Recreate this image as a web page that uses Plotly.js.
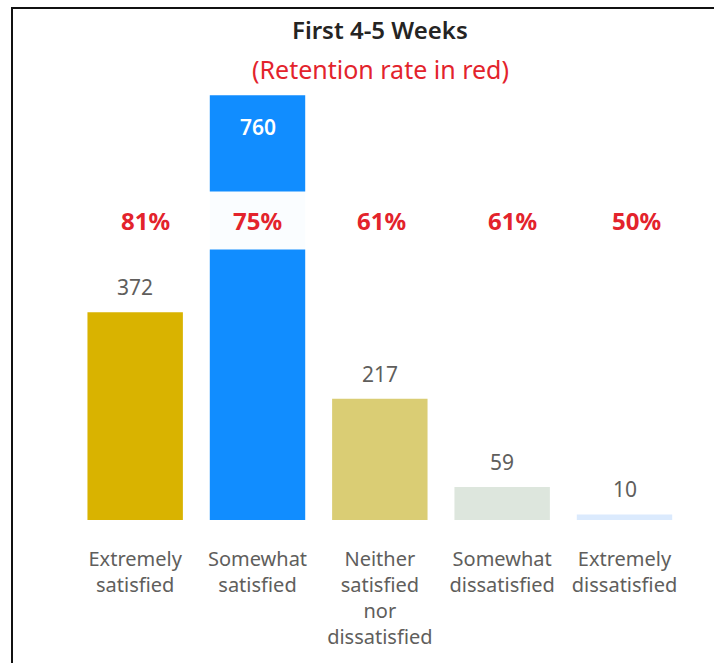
<!DOCTYPE html>
<html>
<head>
<meta charset="utf-8">
<script src="https://cdn.plot.ly/plotly-3.0.1.min.js"></script>
<style>
  body { margin: 0; background: #fff; }
  #frame { position: absolute; left: 11px; top: 7px; width: 720px; height: 680px;
           border-left: 2px solid #111; border-top: 2px solid #111; }
  #chart { position: absolute; left: 0; top: 0; width: 714px; height: 663px; }
</style>
</head>
<body>
<div id="chart"></div>
<div id="frame"></div>
<script>
const categories = ['Extremely<br>satisfied', 'Somewhat<br>satisfied', 'Neither<br>satisfied<br>nor<br>dissatisfied', 'Somewhat<br>dissatisfied', 'Extremely<br>dissatisfied'];
const responses = [372, 760, 217, 59, 10];
const retention = ['81%', '75%', '61%', '61%', '50%'];
const barColors = ['#d9b300', '#118dff', '#dacd74', '#dde6dd', '#dbeafd'];

const font = '"Noto Sans", "Open Sans", sans-serif';
const red = '#e3232c';

const plot = () => {
    let data = [{
        x: categories,
        y: responses,
        type: 'bar',
        marker: {color: barColors},
        hoverinfo: 'x+y'
    }];

    // value labels: inside the bar when it reaches the top, otherwise above
    let valueNotes = responses.map((v, i) => {
        let inside = v > 700;
        return {
            x: categories[i], y: v, xref: 'x', yref: 'y',
            text: String(v), showarrow: false,
            yanchor: inside ? 'top' : 'bottom',
            yshift: inside ? -16 : 9,
            font: {family: font, size: 21, color: inside ? '#ffffff' : '#605e5c', weight: inside ? 600 : 400}
        };
    });

    let rateNotes = retention.map((r, i) => ({
        x: categories[i], y: 0.671, xref: 'x', yref: 'paper', yanchor: 'middle',
        text: '<b>' + r + '</b>', showarrow: false,
        xshift: [10, 0, 2, 10, 12][i],
        width: 95, height: 55, bgcolor: 'rgba(255,255,255,0.98)',
        font: {family: font, size: 24, color: red}
    }));

    let titleNotes = [
        {text: 'First 4-5 Weeks', y: 1.098, font: {family: font, size: 24, color: '#252423', weight: 600}},
        {text: '(Retention rate in red)', y: 1.009, font: {family: font, size: 25, color: red}}
    ].map(t => Object.assign({x: 0.5, xref: 'paper', yref: 'paper', xanchor: 'center', yanchor: 'middle', showarrow: false}, t));

    let layout = {
        width: 714, height: 663,
        margin: {l: 74, r: 28, t: 73, b: 143},
        paper_bgcolor: 'rgba(0,0,0,0)',
        plot_bgcolor: 'rgba(0,0,0,0)',
        bargap: 0.22,
        showlegend: false,
        xaxis: {
            showgrid: false, zeroline: false, showline: false,
            ticks: '', ticklabelstandoff: 25,
            tickfont: {family: font, size: 20, color: '#605e5c'}
        },
        yaxis: {
            range: [0, 800], visible: false, showgrid: false, zeroline: false
        },
        annotations: valueNotes.concat(rateNotes, titleNotes)
    };

    Plotly.newPlot('chart', data, layout, {displayModeBar: false});
}

plot();
</script>
</body>
</html>
